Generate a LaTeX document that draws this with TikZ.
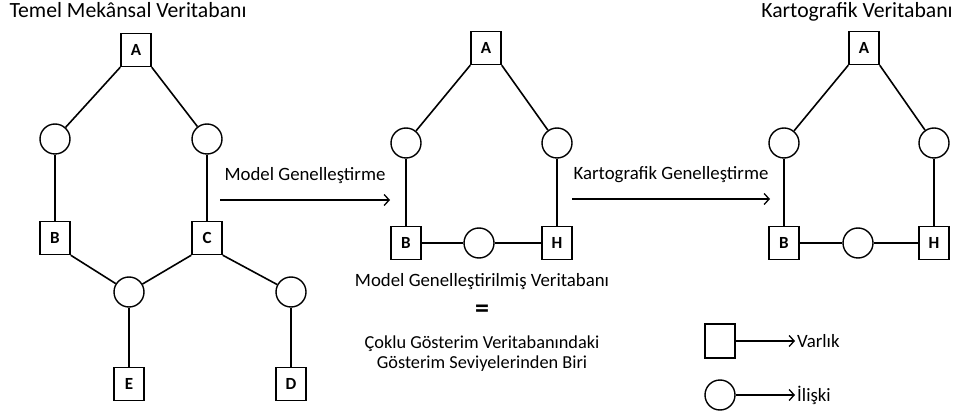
\documentclass[tikz,border=0pt]{standalone}
\usepackage{fontspec}
\setmainfont{Carlito}
\usetikzlibrary{positioning, arrows.meta}

\begin{document}
\begin{tikzpicture}[x=1pt, y=-1pt,
    varlik/.style={draw, line width=1.4pt, minimum width=30pt, minimum height=33pt,
        inner sep=0pt, font=\fontsize{17}{17}\selectfont\bfseries},
    iliski/.style={draw, circle, line width=1.4pt, minimum size=30pt, inner sep=0pt},
    bag/.style={line width=1.6pt},
    ok/.style={-{Straight Barb[length=5pt, width=11pt]}, line width=1.3pt},
    yazi/.style={font=\fontsize{18.8}{22}\selectfont},
    baslik/.style={font=\fontsize{21.7}{24}\selectfont}]
    \useasboundingbox (0,0) rectangle (957,419);

    % Temel mekansal veritabani
    \node[baslik, anchor=base west] (t1) at (6,18) {Temel Mekânsal Veritabanı};
    \node[varlik] (a1) at (136,50) {A};
    \node[iliski] (r1l) at (55,139) {};
    \node[iliski] (r1r) at (207,139) {};
    \node[varlik] (b1) at (55,238) {B};
    \node[varlik] (c1) at (207,238) {C};
    \node[iliski] (r1m) at (129,292) {};
    \node[iliski] (r1d) at (291,292) {};
    \node[varlik] (e1) at (129,384) {E};
    \node[varlik] (d1) at (291,384) {D};

    \draw[bag] (a1.south west) -- (r1l);
    \draw[bag] (a1.south east) -- (r1r);
    \draw[bag] (r1l) -- (b1);
    \draw[bag] (r1r) -- (c1);
    \draw[bag] (b1.south east) -- (r1m);
    \draw[bag] (c1.south west) -- (r1m);
    \draw[bag] (c1.south east) -- (r1d);
    \draw[bag] (r1m) -- (e1);
    \draw[bag] (r1d) -- (d1);

    % Model genellestirme oku
    \coordinate (m1) at (220,200);
    \coordinate (m2) at (390,200);
    \draw[ok] (m1) -- (m2) node[midway, above=12pt, yazi] {Model Genelleştirme};

    % Model genellestirilmis veritabani
    \node[varlik] (a2) at (486,48) {A};
    \node[iliski] (r2l) at (406,143) {};
    \node[iliski] (r2r) at (557,143) {};
    \node[varlik] (b2) at (406,243) {B};
    \node[varlik] (h2) at (557,243) {H};
    \node[iliski] (r2m) at (479,243) {};

    \draw[bag] (a2.south west) -- (r2l);
    \draw[bag] (a2.south east) -- (r2r);
    \draw[bag] (r2l) -- (b2);
    \draw[bag] (r2r) -- (h2);
    \draw[bag] (b2) -- (r2m) -- (h2);

    \node[yazi, anchor=base] (t2) at (482,287) {Model Genelleştirilmiş Veritabanı};
    \node[font=\fontsize{28}{28}\selectfont\bfseries] (esit) at (482,311) {=};
    \node[font=\fontsize{18.3}{20}\selectfont, align=center] (t3) at (482,354)
        {Çoklu Gösterim Veritabanındaki\\Gösterim Seviyelerinden Biri};

    % Kartografik genellestirme oku
    \coordinate (k1) at (572,199);
    \coordinate (k2) at (770,199);
    \draw[ok] (k1) -- (k2) node[midway, above=12pt, yazi] {Kartografik Genelleştirme};

    % Kartografik veritabani
    \node[baslik, anchor=base] (t4) at (857,18) {Kartografik Veritabanı};
    \node[varlik] (a3) at (864,48) {A};
    \node[iliski] (r3l) at (784,143) {};
    \node[iliski] (r3r) at (934,143) {};
    \node[varlik] (b3) at (784,243) {B};
    \node[varlik] (h3) at (934,243) {H};
    \node[iliski] (r3m) at (858,243) {};

    \draw[bag] (a3.south west) -- (r3l);
    \draw[bag] (a3.south east) -- (r3r);
    \draw[bag] (r3l) -- (b3);
    \draw[bag] (r3r) -- (h3);
    \draw[bag] (b3) -- (r3m) -- (h3);

    % Gosterim
    \node[varlik, minimum width=30pt, minimum height=34pt] (lv) at (720,341) {};
    \node[yazi, anchor=west, inner sep=2pt] (tv) at (795,341) {Varlık};
    \draw[ok] (lv) -- (tv);
    \node[iliski] (li) at (720,395) {};
    \node[yazi, anchor=west, inner sep=2pt] (ti) at (795,395) {İlişki};
    \draw[ok] (li) -- (ti);
\end{tikzpicture}
\end{document}
